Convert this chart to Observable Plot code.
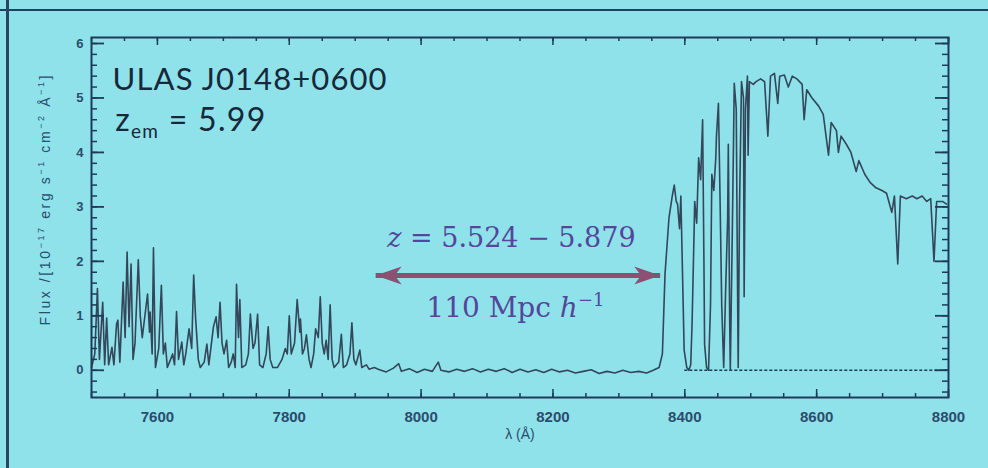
<!DOCTYPE html>
<html><head><meta charset="utf-8">
<script src="https://cdn.jsdelivr.net/npm/d3@7"></script>
<script src="https://cdn.jsdelivr.net/npm/@observablehq/plot@0.6"></script>
<style>
html,body{margin:0;padding:0;background:#8fe2ea;width:988px;height:468px;overflow:hidden}
#wrap{position:relative;width:988px;height:468px}
#wrap svg{position:absolute;left:0;top:0}
.slide-top{position:absolute;left:0;top:9px;width:988px;height:2px;background:#23405e}
.slide-left{position:absolute;left:6px;top:0;width:3px;height:468px;background:#2a4560}
</style></head><body><div id="wrap"><div class="slide-top"></div><div class="slide-left"></div></div>
<script>
// ---- data ----
// Lyman-alpha forest (blue side)
const waveForest = [7500,7505,7509,7512,7517,7520,7523,7526,7531,7534,7538,7540,7543,7548,7551,7554,7557,7560,7563,7566,7571,7574,7577,7580,7585,7588,7589,7592,7594,7597,7602,7606,7609,7612,7615,7620,7623,7626,7629,7632,7637,7640,7643,7648,7652,7655,7658,7662,7665,7671,7675,7678,7685,7689,7692,7695,7698,7701,7705,7708,7712,7715,7718,7720,7723,7725,7728,7734,7738,7741,7745,7748,7752,7755,7760,7765,7768,7771,7775,7782,7789,7794,7797,7800,7803,7808,7812,7816,7817,7820,7823,7826,7830,7833,7837,7840,7844,7847,7850,7853,7856,7859,7862,7865,7868,7875,7879,7882,7887,7892,7895,7898,7901,7907,7910,7917,7921,7929];
const fluxForest = [0.05,0.3,1.5,0.2,1.25,0.1,0.96,0.1,0.42,0.1,0.85,0.92,0.15,1.62,0.6,2.17,0.8,1.95,0.2,0.5,2.03,1.0,0.6,0.9,1.4,0.7,1.07,0.3,2.25,0.05,0.4,1.56,0.3,0.5,0.05,0.2,0.3,0.1,1.08,0.2,0.52,0.1,0.3,0.76,0.4,1.75,0.94,0.2,0.05,0.15,0.48,0.1,0.8,0.98,0.6,1.25,0.5,0.3,0.55,0.05,0.15,0.3,0.05,1.58,0.6,1.3,0.05,0.1,0.3,1.03,0.4,0.5,1.03,0.1,0.05,0.3,0.8,0.2,0.05,0.05,0.2,0.4,0.3,1.0,0.3,0.5,1.3,0.7,0.94,0.3,0.4,0.65,0.2,0.05,0.3,0.76,0.6,1.35,0.5,0.3,0.55,0.2,1.2,0.2,0.05,0.15,0.66,0.05,0.1,0.3,0.87,0.2,0.1,0.37,0.05,0.1,0.02,0.05];
// Gunn-Peterson trough
const waveTrough = [7935,7947,7958,7966,7970,7982,7994,8005,8017,8026,8030,8042,8054,8066,8078,8090,8102,8114,8126,8138,8150,8162,8174,8186,8198,8210,8222,8234,8246,8258,8270,8282,8294,8306,8318,8330,8342,8352];
const fluxTrough = [0.02,-0.03,0.04,0.12,-0.02,0.03,-0.04,0.02,-0.02,0.15,0.0,-0.03,0.02,-0.02,0.03,-0.03,0.02,-0.02,0.03,-0.04,0.02,-0.03,0.01,-0.04,0.02,-0.03,0.0,-0.05,-0.02,0.01,-0.06,-0.02,-0.05,0.0,-0.04,-0.02,-0.05,0.0];
// transmission spikes near the emission line
const waveEdge = [8361,8366,8370,8376,8381,8384,8387,8389,8392,8394,8397,8399,8403,8406,8409,8411,8414,8415,8418,8421,8424,8427,8429,8430,8433,8436,8439,8441,8444,8447,8448,8451,8453,8456,8459,8462,8465,8466,8468,8469,8472,8474,8475,8478,8480,8481,8483,8486,8489,8490,8492,8495,8496,8498];
const fluxEdge = [0.05,0.3,1.77,2.8,3.2,3.4,3.1,3.05,2.6,3.2,1.5,0.37,0.05,0.0,0.1,0.85,2.5,3.1,2.7,3.9,3.5,4.6,2.0,0.48,0.05,0.0,1.2,3.6,3.3,3.9,4.3,4.9,3.5,1.2,0.05,1.5,2.8,4.15,1.0,0.0,2.5,4.3,5.27,4.8,1.5,0.05,3.0,5.3,5.0,1.35,4.8,5.4,3.95,5.3];
// red-side continuum
const waveRed = [8504,8508,8515,8521,8526,8530,8536,8541,8544,8551,8557,8563,8570,8578,8581,8585,8593,8603,8610,8618,8622,8630,8633,8637,8645,8652,8660,8664,8673,8681,8690,8699,8706,8714,8718,8723,8727,8736,8745,8752,8760,8767,8773,8778,8782,8791,8797];
const fluxRed = [5.25,5.3,5.35,5.3,4.3,5.4,5.45,4.9,5.4,5.42,5.2,5.4,5.35,5.25,4.6,5.15,5.0,4.85,4.7,3.95,4.55,4.4,4.0,4.3,4.15,4.0,3.65,3.85,3.6,3.45,3.35,3.3,3.25,2.9,3.2,1.95,3.2,3.15,3.2,3.15,3.2,3.1,3.15,2.0,3.1,3.1,3.05];

const xMajorTicks = [7600, 7800, 8000, 8200, 8400, 8600, 8800];
const xMinorTicks = d3.range(7500, 8801, 50);
const yMajorTicks = [0, 1, 2, 3, 4, 5, 6];
const yMinorTicks = d3.range(-4, 61, 2).map(d => d / 10);

const objectName = "ULAS J0148+0600";
const zEmission = 5.99;
const zRange = [5.524, 5.879];
const lyaRest = 1215.67;
const comovingLabel = "110 Mpc *h*^{−1}";
const yLabel = "Flux /[10^{−17} erg s^{−1} cm^{−2} Å^{−1}]";
const xLabel = "λ (Å)";

// ---- layout ----
const W = 988, H = 468, mT = 37, mB = 71, mL = 91, mR = 40;
const frameW = W - mL - mR, frameH = H - mT - mB;
const ink = "#1e3b58", lineInk = "#33465a", tickInk = "#2b4c6c";
const mathInk = "#54469a", arrowInk = "#8c5073";
const serif = "'DejaVu Serif', 'Liberation Serif', serif";
const sans = "Lato, 'Open Sans', sans-serif";

const spectrum = [
  ...waveForest.map((w, i) => ({w, f: fluxForest[i]})),
  ...waveTrough.map((w, i) => ({w, f: fluxTrough[i]})),
  ...waveEdge.map((w, i) => ({w, f: fluxEdge[i]})),
  ...waveRed.map((w, i) => ({w, f: fluxRed[i]}))
];

const lamLo = lyaRest * (1 + zRange[0]);
const lamHi = lyaRest * (1 + zRange[1]);
const zemLabel = `z_{em} = ${zEmission.toFixed(2)}`;
const zRangeLabel = `*z* = ${zRange[0].toFixed(3)} − ${zRange[1].toFixed(3)}`;

const headRight = {draw(ctx) { ctx.moveTo(0, 0); ctx.lineTo(-26, -9); ctx.lineTo(-19, 0); ctx.lineTo(-26, 9); ctx.closePath(); }};
const headLeft = {draw(ctx) { ctx.moveTo(0, 0); ctx.lineTo(26, -9); ctx.lineTo(19, 0); ctx.lineTo(26, 9); ctx.closePath(); }};

const plot = Plot.plot({
  width: W, height: H, marginTop: mT, marginBottom: mB, marginLeft: mL, marginRight: mR,
  x: {domain: [7500, 8800]},
  y: {domain: [-0.5, 6.11]},
  style: {background: "transparent", fontFamily: "'Liberation Sans', Arial, sans-serif", fontSize: "14px", color: tickInk},
  marks: [
    Plot.ruleY([0], {x1: 8400, x2: 8800, stroke: ink, strokeWidth: 1.3, strokeDasharray: "3,2"}),
    Plot.line(spectrum, {x: "w", y: "f", stroke: lineInk, strokeWidth: 1.6}),
    Plot.tickX(xMajorTicks, {x: d => d, insetTop: frameH - 8, stroke: ink, strokeWidth: 1.5}),
    Plot.tickX(xMinorTicks, {x: d => d, insetTop: frameH - 4, stroke: ink, strokeWidth: 1.5}),
    Plot.tickX(xMajorTicks, {x: d => d, insetBottom: frameH - 8, stroke: ink, strokeWidth: 1.5}),
    Plot.tickX(xMinorTicks, {x: d => d, insetBottom: frameH - 4, stroke: ink, strokeWidth: 1.5}),
    Plot.tickY(yMajorTicks, {y: d => d, insetRight: frameW - 13, stroke: ink, strokeWidth: 1.8}),
    Plot.tickY(yMinorTicks, {y: d => d, insetRight: frameW - 6, stroke: ink, strokeWidth: 1.5}),
    Plot.tickY(yMajorTicks, {y: d => d, insetLeft: frameW - 13, stroke: ink, strokeWidth: 1.8}),
    Plot.tickY(yMinorTicks, {y: d => d, insetLeft: frameW - 6, stroke: ink, strokeWidth: 1.5}),
    Plot.axisX({ticks: xMajorTicks, tickSize: 0, tickPadding: 14, tickFormat: "d", label: null, color: tickInk, fontSize: 15, fontWeight: "bold"}),
    Plot.axisY({ticks: yMajorTicks, tickSize: 0, tickPadding: 8, tickFormat: "d", label: null, color: tickInk, fontSize: 13, fontWeight: "bold"}),
    Plot.frame({stroke: ink, strokeWidth: 2}),
    Plot.text([yLabel], {text: d => d, frameAnchor: "left", textAnchor: "middle", dx: -46, dy: -17, rotate: -90, fontSize: 14, fill: tickInk}),
    Plot.text([xLabel], {text: d => d, frameAnchor: "bottom", dy: 41, fontSize: 14, fill: tickInk}),
    Plot.text([objectName], {text: d => d, x: 7532, y: 5.14, textAnchor: "start", lineAnchor: "bottom", fontFamily: sans, fontSize: 31, fill: "#17283a"}),
    Plot.text([zemLabel], {text: d => d, x: 7536, y: 4.39, textAnchor: "start", lineAnchor: "bottom", fontFamily: sans, fontSize: 32, fill: "#17283a"}),
    Plot.link([0], {x1: lamLo, x2: lamHi, y1: 1.74, y2: 1.74, stroke: arrowInk, strokeWidth: 5}),
    Plot.dot([0], {x: lamHi, y: 1.74, symbol: headRight, fill: arrowInk, stroke: "none"}),
    Plot.dot([0], {x: lamLo, y: 1.74, symbol: headLeft, fill: arrowInk, stroke: "none"}),
    Plot.text([zRangeLabel], {text: d => d, x: 8137, y: 2.26, lineAnchor: "bottom", fontFamily: serif, fontSize: 27, fill: mathInk}),
    Plot.text([comovingLabel], {text: d => d, x: 8143, y: 0.97, lineAnchor: "bottom", fontFamily: serif, fontSize: 28, fill: mathInk})
  ]
});
document.getElementById("wrap").appendChild(plot);

// rich text: _{sub}, ^{sup}, *italic*
const sizes = {};
sizes[zemLabel] = 32; sizes[zRangeLabel] = 27; sizes[comovingLabel] = 28; sizes[yLabel] = 14;
const subScale = {};
subScale[zemLabel] = 0.6;
d3.select(plot).selectAll("text").each(function() {
  const el = this;
  const s = el.textContent;
  if (s in sizes && /[_^*]/.test(s)) {
    const fs = sizes[s];
    const sc = subScale[s] || 0.65;
    el.textContent = "";
    const toks = s.match(/_\{[^}]*\}|\^\{[^}]*\}|\*[^*]*\*|[^_^*]+/g);
    let shift = 0;
    for (const t of toks) {
      const ts = document.createElementNS("http://www.w3.org/2000/svg", "tspan");
      let target = 0, txt = t, small = false, ital = false;
      if (t.startsWith("_{")) { txt = t.slice(2, -1); target = 0.2 * fs; small = true; }
      else if (t.startsWith("^{")) { txt = t.slice(2, -1); target = -0.42 * fs; small = true; }
      else if (t.startsWith("*")) { txt = t.slice(1, -1); ital = true; }
      if (target !== shift) { ts.setAttribute("dy", target - shift); shift = target; }
      if (small) ts.setAttribute("font-size", Math.round(fs * sc));
      if (ital) ts.setAttribute("font-style", "italic");
      ts.textContent = txt;
      el.appendChild(ts);
    }
  }
});
const stretch = {};
stretch[objectName] = 274; stretch[zemLabel] = 150; stretch[yLabel] = 250;
d3.select(plot).selectAll("text").each(function() {
  for (const k in stretch) {
    if (this.textContent === k.replace(/_\{|\^\{|\}|\*/g, "")) {
      this.setAttribute("textLength", stretch[k]);
      this.setAttribute("lengthAdjust", "spacing");
    }
  }
});
</script></body></html>
